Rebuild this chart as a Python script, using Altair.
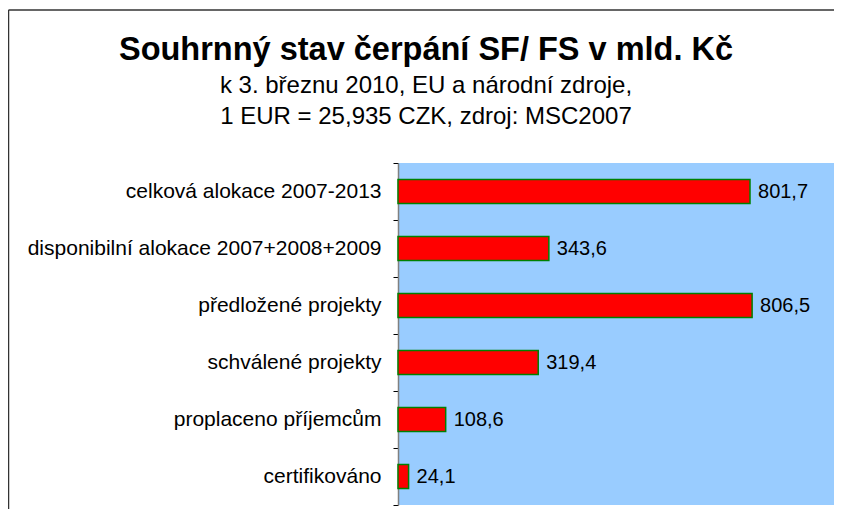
import altair as alt
import pandas as pd

categories = [
    "celková alokace 2007-2013",
    "disponibilní alokace 2007+2008+2009",
    "předložené projekty",
    "schválené projekty",
    "proplaceno příjemcům",
    "certifikováno",
]
values = [801.7, 343.6, 806.5, 319.4, 108.6, 24.1]

title_text = "Souhrnný stav čerpání SF/ FS v mld. Kč"
subtitle_lines = ["k 3. březnu 2010, EU a národní zdroje,", "1 EUR = 25,935 CZK, zdroj: MSC2007"]

FONT = "Arial, Liberation Sans, sans-serif"

df = pd.DataFrame({"cat": categories, "val": values})

W, H = 436, 342

base = alt.Chart(df).transform_calculate(
    lbl="replace(format(datum.val, '.1f'), '.', ',')"
).encode(
    y=alt.Y(
        "cat:N",
        sort=categories,
        scale=alt.Scale(paddingInner=0, paddingOuter=0),
        axis=alt.Axis(
            title=None,
            labelFont=FONT,
            labelFontSize=21,
            labelColor="black",
            labelLimit=0,
            labelPadding=12,
            tickBand="extent",
            tickSize=5,
            tickColor="black",
            domainColor="#808080",
            domainWidth=1.5,
            grid=False,
        ),
    )
)

bars = base.mark_bar(fill="#FF0000", stroke="#008000", strokeWidth=1.5, height=24).encode(
    x=alt.X("val:Q", scale=alt.Scale(domain=[0, 993], nice=False), axis=None)
)

labels = base.mark_text(align="left", baseline="middle", dx=8, fontSize=20, font=FONT, color="black").encode(
    x=alt.X("val:Q"),
    text="lbl:N",
)

one = pd.DataFrame({"a": [0]})
top_border = alt.Chart(one).mark_rule(color="#333333", strokeWidth=1.5).encode(
    x=alt.value(-389.5), x2=alt.value(W), y=alt.value(-153)
)
left_border = alt.Chart(one).mark_rule(color="#333333", strokeWidth=1.5).encode(
    x=alt.value(-389.5), y=alt.value(-153), y2=alt.value(H + 20)
)

chart = alt.layer(bars, labels, top_border, left_border).properties(
    width=W,
    height=H,
    padding={"left": 390, "top": 155, "right": 0, "bottom": 4},
    autosize=alt.AutoSizeParams(type="none"),
    title=alt.TitleParams(
        text=title_text,
        subtitle=subtitle_lines,
        anchor="middle",
        frame="group",
        dx=-190,
        font=FONT,
        fontSize=32.5,
        fontWeight="bold",
        color="black",
        subtitleFont=FONT,
        subtitleFontSize=24,
        subtitleColor="black",
        subtitleLineHeight=31,
        subtitlePadding=8,
        offset=-120,
    ),
).configure_view(fill="#99CCFF", stroke=None)

chart.save("out.html", embed_options={"renderer": "svg", "actions": False})
